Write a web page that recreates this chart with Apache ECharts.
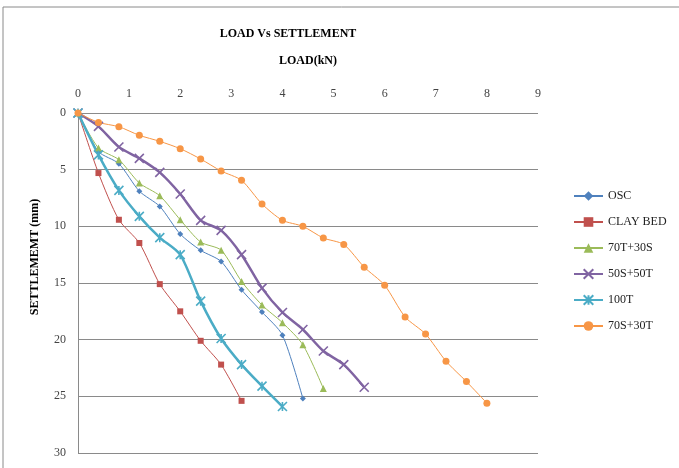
<!DOCTYPE html>
<html><head><meta charset="utf-8">
<script src="https://cdn.jsdelivr.net/npm/echarts@6/dist/echarts.min.js"></script>
<style>html,body{margin:0;padding:0;background:#fff}#c{width:679px;height:468px}</style>
</head><body><div id="c"></div>
<script>
const xTicks = [0,1,2,3,4,5,6,7,8,9];
const yTicks = [0,5,10,15,20,25,30];
const seriesNames = ['OSC','CLAY BED','70T+30S','50S+50T','100T','70S+30T'];

const loadOSC = [0,0.4,0.8,1.2,1.6,2.0,2.4,2.8,3.2,3.6,4.0,4.4];
const setOSC  = [0,3.4,4.47,6.9,8.24,10.68,12.12,13.1,15.6,17.56,19.6,25.2];

const loadClay = [0,0.4,0.8,1.2,1.6,2.0,2.4,2.8,3.2];
const setClay  = [0,5.3,9.42,11.47,15.1,17.5,20.1,22.2,25.4];

const load70T = [0,0.4,0.8,1.2,1.6,2.0,2.4,2.8,3.2,3.6,4.0,4.4,4.8];
const set70T  = [0,3.09,4.12,6.18,7.3,9.42,11.39,12.1,14.86,16.95,18.5,20.45,24.3];

const load50S = [0,0.4,0.8,1.2,1.6,2.0,2.4,2.8,3.2,3.6,4.0,4.4,4.8,5.2,5.6];
const set50S  = [0,1.18,3.0,4.0,5.24,7.15,9.47,10.36,12.5,15.45,17.6,19.1,21.0,22.2,24.2];

const load100T = [0,0.4,0.8,1.2,1.6,2.0,2.4,2.8,3.2,3.6,4.0];
const set100T  = [0,3.7,6.83,9.12,11.0,12.5,16.6,19.9,22.2,24.1,25.9];

const load70S = [0,0.4,0.8,1.2,1.6,2.0,2.4,2.8,3.2,3.6,4.0,4.4,4.8,5.2,5.6,6.0,6.4,6.8,7.2,7.6,8.0];
const set70S  = [0,0.83,1.21,1.97,2.5,3.15,4.06,5.12,5.94,8.03,9.47,10.0,11.03,11.6,13.6,15.2,18.0,19.5,21.9,23.7,25.6];

function pairs(xs, ys){ return xs.map((x,i)=>[x, ys[i]]); }

const colors = ['#4F81BD','#C0504D','#9BBB59','#8064A2','#4BACC6','#F79646'];
const serif = '"Liberation Serif","DejaVu Serif",serif';

const chart = echarts.init(document.getElementById('c'));
function mk(name, data, color, symbol, size, width, stroke){
  const s = {
    name, type:'line', data, smooth:0.25, symbol, symbolSize:size,
    lineStyle:{color, width}, itemStyle:{color},
    emphasis:{disabled:true}, animation:false, z: 3
  };
  if (stroke){ s.itemStyle = {color:'rgba(0,0,0,0)', borderColor:color, borderWidth:1.6}; }
  return s;
}
chart.setOption({
  animation:false,
  color: colors,
  graphic:[
    {type:'rect', shape:{x:3,y:7,width:800,height:600}, style:{fill:'none', stroke:'#8a8a8a', lineWidth:1}, z:-1},
    {type:'text', x:288, y:34, style:{text:'LOAD Vs SETTLEMENT', font:'bold 12px '+serif, fill:'#000', textAlign:'center', textVerticalAlign:'middle'}},
    {type:'text', x:35, y:257, rotation:Math.PI/2, style:{text:'SETTLEMEMT (mm)', font:'bold 12px '+serif, fill:'#000', textAlign:'center', textVerticalAlign:'middle'}}
  ],
  grid:{left:78, top:113, width:460, height:340, containLabel:false},
  legend:{
    orient:'vertical', left:568, top:185, itemGap:14, itemWidth:29, itemHeight:12,
    data: seriesNames,
    textStyle:{fontFamily:serif, fontSize:12, color:'#222'}
  },
  xAxis:{
    type:'value', position:'top', min:0, max:9, interval:1,
    name:'LOAD(kN)', nameLocation:'middle', nameGap:46,
    nameTextStyle:{fontFamily:serif, fontWeight:'bold', fontSize:12, color:'#000'},
    axisLine:{show:false}, axisTick:{show:false}, splitLine:{show:false},
    axisLabel:{margin:13, fontFamily:serif, fontSize:12, color:'#444', formatter:v=>xTicks.includes(v)?String(v):''}
  },
  yAxis:{
    type:'value', inverse:true, min:0, max:30, interval:5,
    axisLine:{show:true, lineStyle:{color:'#8a8a8a', width:1}}, axisTick:{show:false},
    splitLine:{show:true, lineStyle:{color:'#8a8a8a', width:1}},
    axisLabel:{margin:12, fontFamily:serif, fontSize:12, color:'#444', formatter:v=>yTicks.includes(v)?String(v):''}
  },
  series:[
    mk('OSC', pairs(loadOSC,setOSC), colors[0], 'diamond', 6, 1),
    mk('CLAY BED', pairs(loadClay,setClay), colors[1], 'rect', 6, 1),
    mk('70T+30S', pairs(load70T,set70T), colors[2], 'triangle', 7, 1),
    mk('50S+50T', pairs(load50S,set50S), colors[3], 'path://M0,0L10,10M10,0L0,10', 9, 2.5, true),
    mk('100T', pairs(load100T,set100T), colors[4], 'path://M0,0L10,10M10,0L0,10M5,0L5,10', 9, 2.5, true),
    mk('70S+30T', pairs(load70S,set70S), colors[5], 'circle', 7, 1)
  ]
});
</script></body></html>
